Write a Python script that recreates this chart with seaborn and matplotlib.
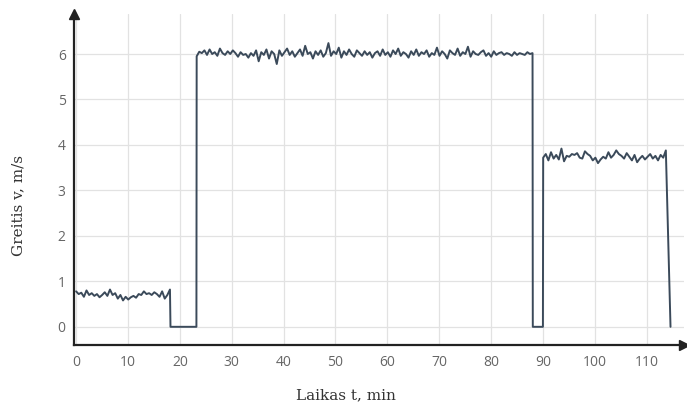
import numpy as np
import pandas as pd
import matplotlib
matplotlib.use("Agg")
import matplotlib.pyplot as plt
import seaborn as sns

# ---- data ----
seg1_range = [0.0, 18.1]
seg1_vals = [0.78,0.72,0.75,0.66,0.80,0.70,0.74,0.68,0.72,0.65,0.70,0.76,0.68,0.82,0.70,0.74,
             0.62,0.70,0.58,0.66,0.60,0.65,0.68,0.64,0.72,0.70,0.78,0.72,0.74,0.70,0.76,0.72,
             0.66,0.78,0.62,0.70,0.82]
gap1_times = [18.2, 23.2]
seg2_range = [23.25, 88.0]
seg2_vals = [5.95,6.05,6.02,6.08,5.98,6.10,6.00,6.04,5.96,6.12,
             6.02,5.98,6.06,6.00,6.08,6.02,5.94,6.04,5.98,6.00,
             5.92,6.02,5.96,6.08,5.84,6.04,5.98,6.10,5.90,6.06,
             6.00,5.78,6.08,5.96,6.04,6.12,5.98,6.06,5.94,6.02,
             6.10,5.96,6.18,6.00,6.04,5.90,6.06,5.98,6.08,5.94,
             6.02,6.24,5.96,6.06,6.00,6.14,5.92,6.06,5.98,6.10,
             6.00,5.94,6.08,6.02,5.96,6.06,5.98,6.04,5.92,6.02,
             6.06,5.96,6.10,5.98,6.04,5.94,6.08,6.00,6.12,5.96,
             6.04,6.00,5.92,6.06,5.98,6.10,5.96,6.04,6.00,6.08,
             5.94,6.02,5.98,6.14,5.96,6.06,6.00,5.90,6.08,6.02,
             5.98,6.12,5.96,6.04,6.00,6.16,5.94,6.06,6.00,5.98,
             6.04,6.08,5.96,6.02,5.94,6.06,5.98,6.02,6.04,5.98,
             6.02,6.00,5.96,6.04,5.98,6.02,6.00,5.98,6.04,6.00,
             6.02]
gap2_times = [88.05, 90.0]
seg3_range = [90.05, 113.7]
seg3_vals = [3.72,3.80,3.66,3.84,3.70,3.78,3.68,3.92,3.64,3.76,
             3.74,3.80,3.78,3.82,3.72,3.70,3.86,3.80,3.76,3.66,
             3.72,3.60,3.68,3.74,3.70,3.84,3.72,3.78,3.88,3.80,
             3.76,3.70,3.82,3.74,3.66,3.78,3.62,3.70,3.76,3.68,
             3.74,3.80,3.70,3.76,3.66,3.78,3.72,3.88]
end_time = [114.6]

x_ticks = list(range(0, 111, 10))
y_ticks = list(range(0, 7))
x_label = "Laikas t, min"
y_label = "Greitis v, m/s"

# ---- build table ----
t = np.concatenate([
    np.linspace(*seg1_range, len(seg1_vals)), gap1_times,
    np.linspace(*seg2_range, len(seg2_vals)), gap2_times,
    np.linspace(*seg3_range, len(seg3_vals)), end_time])
v = np.concatenate([seg1_vals, [0, 0], seg2_vals, [0, 0], seg3_vals, [0]])
df = pd.DataFrame({"t": t, "v": v})

sns.set_theme(style="white")
fig = plt.figure(figsize=(6.87, 4.04), dpi=100)
ax = fig.add_axes([74/687, 59/404, (684-74)/687, (345-14)/404])

sns.lineplot(data=df, x="t", y="v", sort=False, estimator=None, ax=ax,
             color="#3b4a5a", linewidth=1.4)

ax.set_xlim(-0.4, 117.2)
ax.set_ylim(-0.4, 6.88)
ax.set_xticks(x_ticks)
ax.set_yticks(y_ticks)
ax.grid(True, color="#e2e2e2", linewidth=0.9)
ax.set_axisbelow(True)

for s in ["top", "right"]:
    ax.spines[s].set_visible(False)
for s in ["left", "bottom"]:
    ax.spines[s].set_color("#222222")
    ax.spines[s].set_linewidth(1.6)

ax.plot(1, 0, marker=">", color="#222222", ms=7, transform=ax.transAxes, clip_on=False)
ax.plot(0, 1, marker="^", color="#222222", ms=7, transform=ax.transAxes, clip_on=False)

ax.tick_params(axis="x", direction="inout", length=4, width=1, color="#333333",
               labelsize=10, labelcolor="#666666", pad=5)
ax.tick_params(axis="y", direction="out", length=3, width=1, color="#333333",
               labelsize=10, labelcolor="#666666", pad=3)
for lab in ax.get_xticklabels() + ax.get_yticklabels():
    lab.set_family("Open Sans")

ax.set_xlabel(x_label, family="DejaVu Serif", fontsize=11, color="#333333")
ax.set_ylabel(y_label, family="DejaVu Serif", fontsize=11, color="#333333")
ax.xaxis.set_label_coords((346-74)/610, -(395-345)/331, transform=ax.transAxes)
ax.yaxis.set_label_coords((18-74)/610, (345-205)/331, transform=ax.transAxes)
ax.xaxis.label.set_va("center")
ax.yaxis.label.set_va("center")

fig.savefig("out.png", dpi=100)
